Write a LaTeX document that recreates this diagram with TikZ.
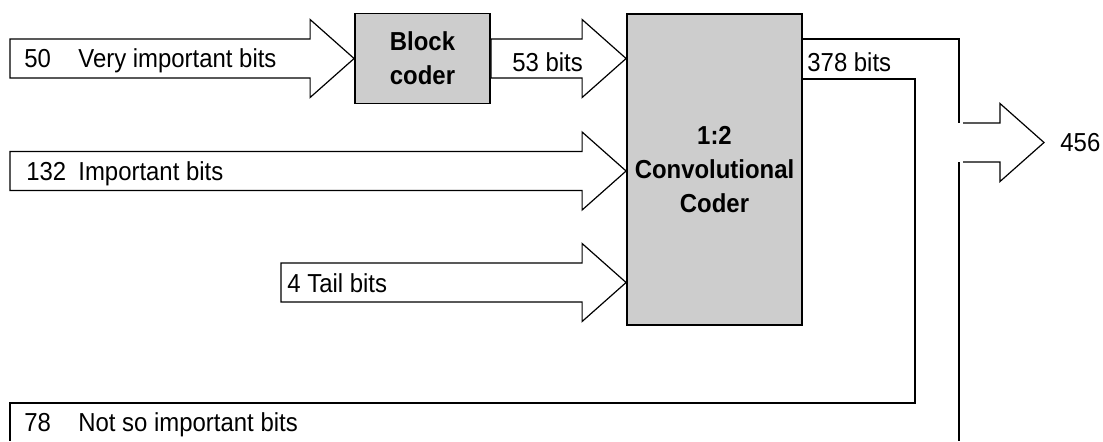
\documentclass[tikz,border=0pt]{standalone}
\usepackage{fontspec}
\setmainfont{Liberation Sans}[FakeStretch=0.92]
\usetikzlibrary{calc, positioning}
\definecolor{codergray}{RGB}{205,205,205}
\tikzset{
  coderbox/.style={draw=black, line width=0.9pt, fill=codergray, align=center,
    font=\fontsize{13}{17}\selectfont\bfseries, inner sep=0pt},
  fatarrow/.style={draw=black, line width=0.6pt, fill=white, line join=miter},
  bitline/.style={draw=black, line width=0.9pt},
  bitlabel/.style={anchor=west, inner sep=0pt, text height=9.3pt, text depth=0pt,
    font=\fontsize{13}{17}\selectfont}
}
% wide hollow arrow from tail #1 to tip #2
\newcommand{\fatarrow}[2]{%
  \draw[fatarrow] ($(#1)+(0,-19.5)$) -- ($(#2)+(-44,-19.5)$) -- ($(#2)+(-44,-39)$)
    -- (#2) -- ($(#2)+(-44,39)$) -- ($(#2)+(-44,19.5)$) -- ($(#1)+(0,19.5)$) -- cycle;}

\begin{document}
\begin{tikzpicture}[x=0.5pt, y=-0.5pt]
  \useasboundingbox (0,0) rectangle (1103,441);
  % coders
  \node[coderbox, minimum width=67.5pt, minimum height=45pt] (block) at (422.5,58.5) {Block\\coder};
  \node[coderbox, minimum width=87.5pt, minimum height=155.5pt] (conv) at (714.5,169.5) {1:2\\Convolutional\\Coder};

  % inputs
  \coordinate (vib) at (10,58.5);
  \coordinate (ib) at (10,171);
  \coordinate (tb) at (281,282.5);
  \coordinate (cin1) at (conv.west |- block.east);
  \coordinate (cin2) at (conv.west |- ib);
  \coordinate (cin3) at (conv.west |- tb);
  \fatarrow{vib}{block.west}
  \fatarrow{block.east}{cin1}
  \fatarrow{ib}{cin2}
  \fatarrow{tb}{cin3}

  % output side
  \coordinate (join1) at (959,123);
  \coordinate (join2) at (959,162);
  \coordinate (nsib) at (10,403);
  \coordinate (out) at (1044,142.5);
  \draw[bitline] ($(conv.north east)+(0,26)$) -| (join1);
  \draw[bitline] ($(conv.north east)+(0,66)$) -| (915,403) -- (nsib) -- (10,441);
  \draw[bitline] (join2) -- (959,441);
  \draw[fatarrow] ($(join1)+(4,0)$) -- ($(out)+(-44,-19.5)$) -- ($(out)+(-44,-39)$)
    -- (out) -- ($(out)+(-44,39)$) -- ($(out)+(-44,19.5)$) -- ($(join2)+(4,0)$);

  % labels
  \node[bitlabel] (n50) at (24,58.5) {50};
  \node[bitlabel] (vibtext) at (78,58.5) {Very important bits};
  \node[bitlabel] (n132) at (26,171) {132};
  \node[bitlabel] (ibtext) at (78,171) {Important bits};
  \node[bitlabel] (tbtext) at (287,283) {4 Tail bits};
  \node[bitlabel] (n78) at (24,422) {78};
  \node[bitlabel] (nsibtext) at (78,422) {Not so important bits};
  \node[bitlabel] (n53) at (512,62) {53 bits};
  \node[bitlabel] (n378) at (807,62) {378 bits};
  \node[bitlabel, right=8pt of out] (total) {456};
\end{tikzpicture}
\end{document}
